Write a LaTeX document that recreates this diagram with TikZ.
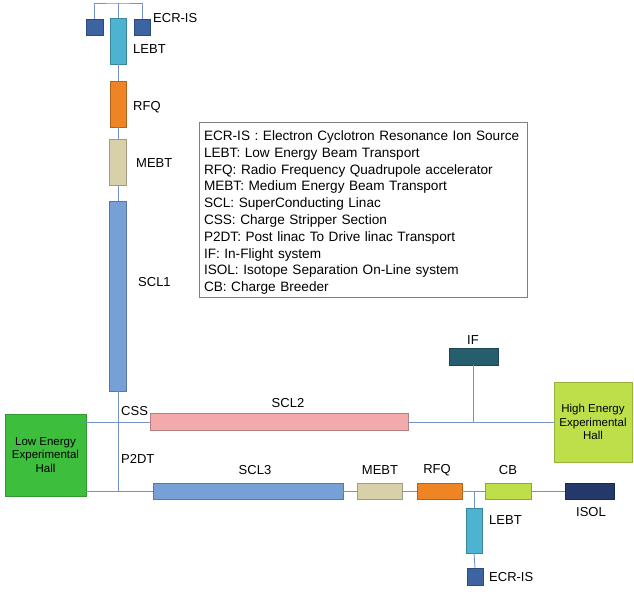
\documentclass[tikz,border=0pt]{standalone}
\usepackage{fontspec}
\setmainfont{Liberation Sans}
\usepackage{tikz}
\usetikzlibrary{positioning}

\definecolor{beamline}{HTML}{7393C6}
\definecolor{ecrblue}{HTML}{3C64A0}
\definecolor{lebtcyan}{HTML}{4DB3D1}
\definecolor{rfqorange}{HTML}{EE8424}
\definecolor{mebttan}{HTML}{D8D0A8}
\definecolor{sclblue}{HTML}{76A0D6}
\definecolor{sclpink}{HTML}{F2AAAA}
\definecolor{ifteal}{HTML}{265E6E}
\definecolor{hallgreen}{HTML}{3DBE3D}
\definecolor{halllime}{HTML}{BCDF4A}
\definecolor{isolnavy}{HTML}{22396A}

\tikzset{
        elem/.style={draw=#1!75!black, fill=#1, inner sep=0pt, line width=0.5pt},
        beam/.style={draw=beamline, line width=0.9pt},
        lbl/.style={inner sep=0pt, font=\fontsize{13}{15}\selectfont},
        hall/.style={draw=#1!80!black, fill=#1, align=center, inner sep=0pt,
                     font=\fontsize{11.5}{13.4}\selectfont},
        legend/.style={align=left, inner sep=0pt, text width=318pt,
                       font=\fontsize{13.6}{16.8}\selectfont},
 }

\begin{document}
\begin{tikzpicture}[x=1pt, y=-1pt]
    \useasboundingbox (0,0) rectangle (634,594);

    % driver linac (vertical)
    \node[elem=ecrblue, minimum width=17pt, minimum height=16pt] (ecrA) at (94.5,27) {};
    \node[elem=ecrblue, minimum width=16pt, minimum height=16pt] (ecrB) at (142,27) {};
    \node[elem=lebtcyan, minimum width=16pt, minimum height=46pt] (lebtA) at (118,41) {};
    \node[elem=rfqorange, minimum width=16pt, minimum height=46pt] (rfqA) at (118,104) {};
    \node[elem=mebttan, minimum width=17pt, minimum height=46pt] (mebtA) at (118,162) {};
    \node[elem=sclblue, minimum width=17pt, minimum height=190pt] (sclA) at (118,296) {};

    \coordinate (topbar) at (118,3);
    \coordinate (p2dtJ) at (118,491);

    \node[lbl, anchor=west] (ecrAlbl) at (153,18) {ECR-IS};
    \node[lbl, anchor=west] (lebtAlbl) at (133,49) {LEBT};
    \node[lbl, anchor=west] (rfqAlbl) at (133,107) {RFQ};
    \node[lbl, anchor=west] (mebtAlbl) at (136,163) {MEBT};
    \node[lbl, anchor=west] (sclAlbl) at (138,282) {SCL1};
    \node[lbl, anchor=west] (cssLbl) at (121,411) {CSS};
    \node[lbl, anchor=west] (p2dtLbl) at (121,459) {P2DT};

    % halls
    \node[hall=hallgreen, minimum width=81pt, minimum height=82pt] (lowHall) at (45.5,455)
        {Low Energy\\Experimental\\Hall};
    \node[hall=halllime, minimum width=78pt, minimum height=80pt] (highHall) at (593,422)
        {High Energy\\Experimental\\Hall};

    % high energy line
    \node[elem=sclpink, minimum width=258pt, minimum height=17pt] (sclB) at (279,422) {};
    \node[elem=ifteal, minimum width=49pt, minimum height=17pt] (ifBox) at (473.5,356.5) {};
    \node[lbl] (sclBlbl) at (288,403) {SCL2};
    \node[lbl] (ifLbl) at (473,340) {IF};

    % post accelerator line
    \node[elem=sclblue, minimum width=190pt, minimum height=16pt] (sclC) at (248,491) {};
    \node[elem=mebttan, minimum width=45pt, minimum height=16pt] (mebtB) at (379.5,491) {};
    \node[elem=rfqorange, minimum width=45pt, minimum height=16pt] (rfqB) at (439.5,491) {};
    \node[elem=halllime, minimum width=46pt, minimum height=16pt] (cbBox) at (508,491) {};
    \node[elem=isolnavy, minimum width=49pt, minimum height=16pt] (isolBox) at (589.5,491) {};
    \node[elem=lebtcyan, minimum width=16pt, minimum height=45pt] (lebtB) at (474,530.5) {};
    \node[elem=ecrblue, minimum width=16pt, minimum height=17pt] (ecrC) at (475,576.5) {};

    \node[lbl] (sclClbl) at (255,470) {SCL3};
    \node[lbl] (mebtBlbl) at (380,470) {MEBT};
    \node[lbl] (rfqBlbl) at (437,470) {RFQ};
    \node[lbl] (cbLbl) at (508,470) {CB};
    \node[lbl] (isolLbl) at (591,512) {ISOL};
    \node[lbl, anchor=west] (lebtBlbl) at (489,520) {LEBT};
    \node[lbl, anchor=west] (ecrClbl) at (489,577) {ECR-IS};

    % beam lines
    \draw[beam] (ecrA.north) |- (topbar) -| (ecrB.north);
    \draw[beam] (topbar) -- (lebtA.north);
    \draw[beam] (lebtA.south) -- (rfqA.north);
    \draw[beam] (rfqA.south) -- (mebtA.north);
    \draw[beam] (mebtA.south) -- (sclA.north);
    \draw[beam] (sclA.south) -- (p2dtJ);
    \draw[beam] (sclB.west -| lowHall.east) -- (sclB.west);
    \draw[beam] (sclB.east) -- (highHall.west);
    \draw[beam] (ifBox.south) -- (ifBox.south |- sclB.east);
    \draw[beam] (p2dtJ -| lowHall.east) -- (sclC.west);
    \draw[beam] (sclC.east) -- (mebtB.west);
    \draw[beam] (mebtB.east) -- (rfqB.west);
    \draw[beam] (rfqB.east) -- (cbBox.west);
    \draw[beam] (cbBox.east) -- (isolBox.west);
    \draw[beam] (lebtB.north |- rfqB.east) -- (lebtB.north);
    \draw[beam] (lebtB.south) -- (ecrC.north);

    % legend
    \node[draw=gray, line width=0.8pt, minimum width=328pt, minimum height=175pt] (key) at (363,210) {};
    \node[legend] (keyText) at (363,212.5)
        {ECR-IS : Electron Cyclotron Resonance Ion Source\\
         LEBT: Low Energy Beam Transport\\
         RFQ: Radio Frequency Quadrupole accelerator\\
         MEBT: Medium Energy Beam Transport\\
         SCL: SuperConducting Linac\\
         CSS: Charge Stripper Section\\
         P2DT: Post linac To Drive linac Transport\\
         IF: In-Flight system\\
         ISOL: Isotope Separation On-Line system\\
         CB: Charge Breeder};
\end{tikzpicture}
\end{document}
